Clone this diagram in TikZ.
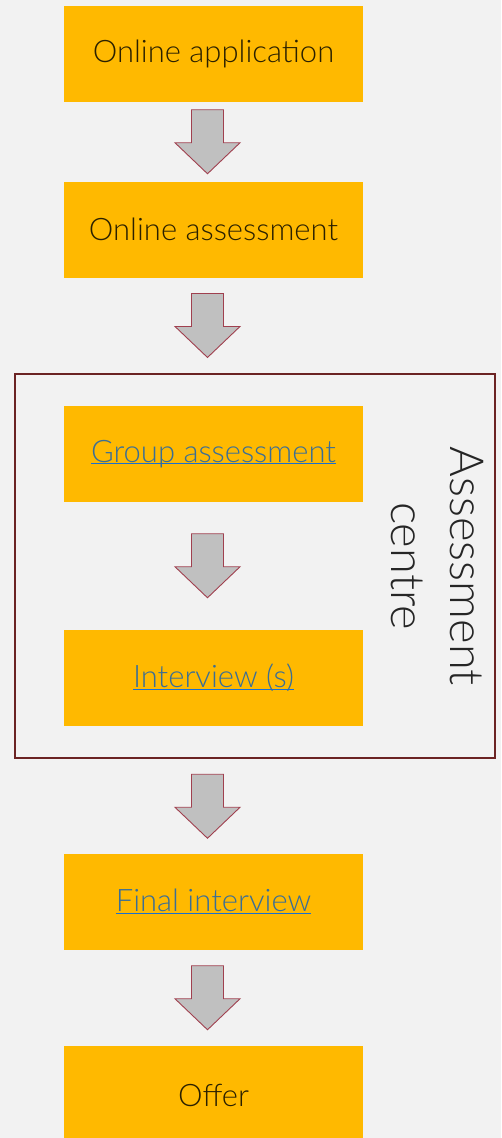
\documentclass[tikz,border=0pt]{standalone}
\usepackage{fontspec}
\setmainfont{Lato Light}
\usetikzlibrary{calc}
\definecolor{bg}{HTML}{F2F2F2}
\definecolor{boxor}{HTML}{FFB900}
\definecolor{arrfill}{HTML}{C0C0C0}
\definecolor{arrline}{HTML}{A0404F}
\definecolor{framec}{HTML}{6B2323}
\definecolor{txtc}{HTML}{2A2000}
\definecolor{lnkc}{HTML}{3A6E96}
\definecolor{ulc}{HTML}{1A6FD0}
\newcommand\lnk[1]{\setbox0\hbox{#1}\rlap{\color{ulc}\rule[-2.2pt]{\wd0}{1.2pt}}\textcolor{lnkc}{\box0}}
\tikzset{
  stepbox/.style={fill=boxor, draw=none, minimum width=299pt, minimum height=95.5pt, inner sep=0pt, text=txtc, font=\fontsize{31}{36}\selectfont},
  arrowst/.style={fill=arrfill, draw=arrline, line width=0.9pt, line join=miter},
  pics/blockarr/.style={code={\draw[arrowst] (-16,-32) -- (16,-32) -- (16,1) -- (32.5,1) -- (0,32) -- (-32.5,1) -- (-16,1) -- cycle;}}
}
\begin{document}
\begin{tikzpicture}[x=1pt,y=-1pt]
\fill[bg] (0,0) rectangle (501,1138);
\useasboundingbox (0,0) rectangle (501,1138);
\node[stepbox] (app) at (213.5,53.75) {Online application};
\node[stepbox] (oa) at (213.5,229.75) {Online assessment};
\node[draw=framec, line width=1.5pt, minimum width=480pt, minimum height=384pt, inner sep=0pt] (frame) at (255,566) {};
\node[stepbox] (grp) at (213.5,453.75) {\lnk{Group assessment}};
\node[stepbox] (int) at (213.5,677.75) {\lnk{Interview (s)}};
\node[stepbox] (fin) at (213.5,901.75) {\lnk{Final interview}};
\node[stepbox, minimum height=98pt] (off) at (213.5,1095) {Offer};
\node[rotate=-90, align=center, font=\fontsize{47}{59}\selectfont, text=black!85] (lbl) at (437,566) {Assessment\\centre};
\path ($(app.south)!0.5!(oa.north)$) pic[xshift=-6pt] {blockarr};
\path ($(oa.south)!0.5!(frame.north)$) pic[xshift=-26.75pt] {blockarr};
\path ($(grp.south)!0.5!(int.north)$) pic[xshift=-6pt] {blockarr};
\path ($(frame.south)!0.5!(fin.north)$) pic[xshift=-26.75pt] {blockarr};
\path ($(fin.south)!0.5!(off.north)$) pic[xshift=-6pt] {blockarr};
\end{tikzpicture}
\end{document}
